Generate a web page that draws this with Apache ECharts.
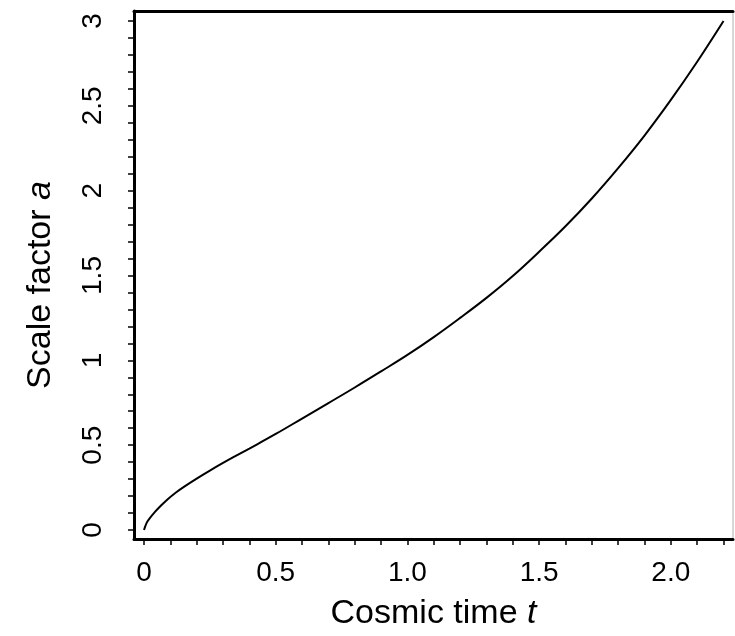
<!DOCTYPE html>
<html>
<head>
<meta charset="utf-8">
<script src="https://cdn.jsdelivr.net/npm/echarts@6/dist/echarts.min.js"></script>
<style>
  html, body { margin: 0; padding: 0; background: #fff; }
  #chart { width: 735px; height: 636px; }
</style>
</head>
<body>
<div id="chart"></div>
<script>
// cosmic time t and scale factor a
const timeValues = [0, 0.01, 0.02, 0.04, 0.06, 0.09, 0.12, 0.15, 0.2, 0.25, 0.3, 0.35, 0.4, 0.5, 0.6, 0.7, 0.8, 0.9, 1.0, 1.1, 1.2, 1.3, 1.4, 1.5, 1.6, 1.7, 1.8, 1.9, 2.0, 2.1, 2.2]
const scaleValues = [0, 0.042, 0.066, 0.104, 0.137, 0.182, 0.22, 0.253, 0.303, 0.35, 0.395, 0.438, 0.48, 0.566, 0.657, 0.748, 0.84, 0.935, 1.032, 1.137, 1.25, 1.368, 1.497, 1.64, 1.79, 1.954, 2.133, 2.325, 2.535, 2.76, 3.0]

// tick marks and labels
const xTickValues = [0, 0.1, 0.2, 0.3, 0.4, 0.5, 0.6, 0.7, 0.8, 0.9, 1.0, 1.1, 1.2, 1.3, 1.4, 1.5, 1.6, 1.7, 1.8, 1.9, 2.0, 2.1, 2.2]
const xLabelValues = [0, 0.5, 1.0, 1.5, 2.0]
const xLabelText = ['0', '0.5', '1.0', '1.5', '2.0']
const yTickValues = [0, 0.1, 0.2, 0.3, 0.4, 0.5, 0.6, 0.7, 0.8, 0.9, 1.0, 1.1, 1.2, 1.3, 1.4, 1.5, 1.6, 1.7, 1.8, 1.9, 2.0, 2.1, 2.2, 2.3, 2.4, 2.5, 2.6, 2.7, 2.8, 2.9, 3.0]
const yLabelValues = [0, 0.5, 1, 1.5, 2, 2.5, 3]
const yLabelText = ['0', '0.5', '1', '1.5', '2', '2.5', '3']

const chart = echarts.init(document.getElementById('chart'))

const labelFor = (values, texts) => v => {
  const i = values.findIndex(x => Math.abs(x - v) < 1e-6)
  return i >= 0 ? texts[i] : ''
}

const font = 'Liberation Sans, Arial, sans-serif'

const option = {
  animation: false,
  backgroundColor: '#fff',
  grid: {
    left: 134,
    right: 2,
    top: 11,
    bottom: 96,
    show: true,
    borderColor: '#b0b0b0',
    borderWidth: 1
  },
  xAxis: [
    {
      type: 'value',
      min: -0.038,
      max: 2.236,
      position: 'bottom',
      name: '{n|Cosmic time }{i|t}',
      nameLocation: 'middle',
      nameGap: 58,
      nameTextStyle: {
        rich: {
          n: { fontFamily: font, fontSize: 34, color: '#000' },
          i: { fontFamily: font, fontSize: 34, color: '#000', fontStyle: 'italic' }
        }
      },
      axisLine: { show: true, onZero: false, lineStyle: { color: '#000', width: 3 } },
      axisTick: {
        show: true,
        customValues: xTickValues,
        length: 6,
        lineStyle: { color: '#000', width: 1.5 }
      },
      axisLabel: {
        customValues: xLabelValues,
        formatter: labelFor(xLabelValues, xLabelText),
        margin: 20,
        fontFamily: font,
        fontSize: 28,
        color: '#000'
      },
      splitLine: { show: false }
    },
    {
      type: 'value',
      min: -0.038,
      max: 2.236,
      position: 'top',
      axisLine: { show: true, onZero: false, lineStyle: { color: '#000', width: 3 } },
      axisTick: { show: false },
      axisLabel: { show: false },
      splitLine: { show: false }
    }
  ],
  yAxis: {
    type: 'value',
    min: -0.053,
    max: 3.059,
    name: '{n|Scale factor }{i|a}',
    nameLocation: 'middle',
    nameGap: 76,
    nameTextStyle: {
      padding: [0, 20, 0, 0],
      rich: {
        n: { fontFamily: font, fontSize: 34, color: '#000' },
        i: { fontFamily: font, fontSize: 34, color: '#000', fontStyle: 'italic' }
      }
    },
    axisLine: { show: true, onZero: false, lineStyle: { color: '#000', width: 3 } },
    axisTick: {
      show: true,
      customValues: yTickValues,
      length: 6,
      lineStyle: { color: '#000', width: 1.5 }
    },
    axisLabel: {
      customValues: yLabelValues,
      formatter: labelFor(yLabelValues, yLabelText),
      rotate: 90,
      margin: 27,
      fontFamily: font,
      fontSize: 28,
      color: '#000'
    },
    splitLine: { show: false }
  },
  series: [
    {
      type: 'line',
      xAxisIndex: 0,
      data: timeValues.map((t, i) => [t, scaleValues[i]]),
      smooth: 0.4,
      showSymbol: false,
      lineStyle: { color: '#000', width: 2 }
    }
  ]
}

chart.setOption(option)
</script>
</body>
</html>
